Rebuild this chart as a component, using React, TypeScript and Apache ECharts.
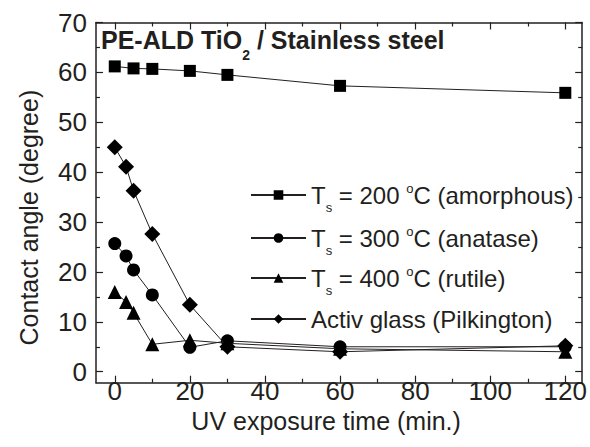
import React, { useEffect, useRef } from "react";
import * as echarts from "echarts";

// ---- data ----
const seriesNames = [
  "T_s = 200 °C (amorphous)",
  "T_s = 300 °C (anatase)",
  "T_s = 400 °C (rutile)",
  "Activ glass (Pilkington)",
];
const amorphousTime = [0, 5, 10, 20, 30, 60, 120];
const amorphousAngle = [61.2, 60.8, 60.7, 60.3, 59.5, 57.3, 55.9];
const anataseTime = [0, 3, 5, 10, 20, 30, 60, 120];
const anataseAngle = [25.7, 23.2, 20.4, 15.4, 4.9, 6.2, 5.0, 5.0];
const rutileTime = [0, 3, 5, 10, 20, 30, 60, 120];
const rutileAngle = [16.0, 14.0, 11.8, 5.5, 6.3, 5.7, 4.6, 4.0];
const activTime = [0, 3, 5, 10, 20, 30, 60, 120];
const activAngle = [45.0, 41.1, 36.3, 27.6, 13.4, 5.0, 4.0, 5.2];

const xTicks = [0, 20, 40, 60, 80, 100, 120];
const xMinorTicks = [10, 30, 50, 70, 90, 110];
const yTicks = [0, 10, 20, 30, 40, 50, 60, 70];
const yMinorTicks = [5, 15, 25, 35, 45, 55, 65];

const INK = "#231f20";

const zip = (xs: number[], ys: number[]) => xs.map((x, i) => [x, ys[i]]);

export default function App() {
  const ref = useRef<HTMLDivElement>(null);
  useEffect(() => {
    if (!ref.current) return;
    const chart = echarts.init(ref.current, undefined, { renderer: "svg" });

    const X_MIN = -5;
    const X_MAX = 124.5;
    const Y_MIN = -2.2;
    const Y_MAX = 70;
    const lineStyle = { color: INK, width: 1.5 };

    const xAx = (position: string, ticks: number[], len: number, major: boolean, showLabel: boolean) => ({
      type: "value",
      min: X_MIN,
      max: X_MAX,
      position,
      axisLine: { show: major, onZero: false, lineStyle },
      axisTick: { show: true, inside: true, length: len, customValues: ticks, lineStyle: { color: INK, width: 1.2 } },
      axisLabel: showLabel
        ? { show: true, customValues: ticks, fontSize: 26, lineHeight: 20, color: INK, margin: -2, fontFamily: "Liberation Sans" }
        : { show: false },
      splitLine: { show: false },
    });
    const yAx = (position: string, ticks: number[], len: number, major: boolean, showLabel: boolean) => ({
      type: "value",
      min: Y_MIN,
      max: Y_MAX,
      position,
      axisLine: { show: major, onZero: false, lineStyle },
      axisTick: { show: true, inside: true, length: len, customValues: ticks, lineStyle: { color: INK, width: 1.2 } },
      axisLabel: showLabel
        ? { show: true, customValues: ticks, fontSize: 26, color: INK, margin: 9, fontFamily: "Liberation Sans" }
        : { show: false },
      splitLine: { show: false },
    });

    const xMain: any = xAx("bottom", xTicks, 7, true, true);
    xMain.name = "UV exposure time (min.)";
    xMain.nameLocation = "middle";
    xMain.nameGap = 28;
    xMain.nameMoveOverlap = false;
    xMain.nameTextStyle = { fontSize: 25, lineHeight: 20, color: INK, fontFamily: "Liberation Sans", padding: [0, 26, 0, 0], verticalAlign: "top" };

    const yMain: any = yAx("left", yTicks, 7, true, true);
    yMain.name = "Contact angle (degree)";
    yMain.nameLocation = "middle";
    yMain.nameGap = 55;
    yMain.nameMoveOverlap = false;
    yMain.nameTextStyle = { fontSize: 25, color: INK, fontFamily: "Liberation Sans", padding: [0, 30, 0, 0] };

    const symbols = ["rect", "circle", "triangle", "diamond"];
    const sizes = [12, 13, 14, 16];
    const datas = [
      zip(amorphousTime, amorphousAngle),
      zip(anataseTime, anataseAngle),
      zip(rutileTime, rutileAngle),
      zip(activTime, activAngle),
    ];

    const rich = {
      t: { fontSize: 24, color: INK, fontFamily: "Liberation Sans", lineHeight: 38, verticalAlign: "middle" },
      sub: { fontSize: 13, color: INK, fontFamily: "Liberation Sans", lineHeight: 13, verticalAlign: "top", padding: [25, 0, 0, 0] },
      sup: { fontSize: 13, color: INK, fontFamily: "Liberation Sans", lineHeight: 13, verticalAlign: "top", padding: [6, 0, 0, 0] },
    };
    const legendText = (name: string) => {
      const m = name.match(/^T_s = (\d+) °C (.*)$/);
      if (m) return `{t|T}{sub|s}{t| = ${m[1]} }{sup|o}{t|C ${m[2]}}`;
      return `{t|${name}}`;
    };
    const legendTops = [176, 219, 259, 307];

    chart.setOption({
      animation: false,
      backgroundColor: "#ffffff",
      textStyle: { fontFamily: "Liberation Sans" },
      title: {
        text: "{b|PE-ALD TiO}{s|2}{b| / Stainless steel}",
        left: 101,
        top: 27,
        padding: 0,
        textStyle: {
          rich: {
            b: { fontSize: 25, fontWeight: "bold", color: INK, fontFamily: "Liberation Sans", lineHeight: 30, verticalAlign: "top" },
            s: { fontSize: 14, fontWeight: "bold", color: INK, fontFamily: "Liberation Sans", lineHeight: 14, verticalAlign: "top", padding: [21, 0, 0, 0] },
          },
        },
      },
      grid: { left: 96, right: 6, top: 22.5, bottom: 64.3, containLabel: false },
      legend: seriesNames.map((n, i) => ({
        data: [n],
        left: 250,
        top: legendTops[i],
        orient: "vertical",
        itemWidth: 55,
        itemHeight: 12,
        itemGap: 0,
        padding: 0,
        selectedMode: false,
        formatter: legendText,
        textStyle: { rich, color: INK },
      })),
      xAxis: [
        xMain,
        xAx("bottom", xMinorTicks, 4, false, false),
        xAx("top", xTicks, 7, true, false),
        xAx("top", xMinorTicks, 4, false, false),
      ],
      yAxis: [
        yMain,
        yAx("left", yMinorTicks, 4, false, false),
        yAx("right", yTicks, 7, true, false),
        yAx("right", yMinorTicks, 4, false, false),
      ],
      series: seriesNames.map((n, i) => ({
        name: n,
        type: "line",
        xAxisIndex: 0,
        yAxisIndex: 0,
        data: datas[i],
        symbol: symbols[i],
        symbolSize: sizes[i],
        showSymbol: true,
        lineStyle: { color: INK, width: 1 },
        itemStyle: { color: "#000000" },
        z: 2 + i,
      })),
    });
    return () => chart.dispose();
  }, []);
  return (
    <div
      ref={ref}
      style={{ position: "fixed", left: 0, top: 0, width: 590, height: 447, background: "#fff" }}
    />
  );
}
